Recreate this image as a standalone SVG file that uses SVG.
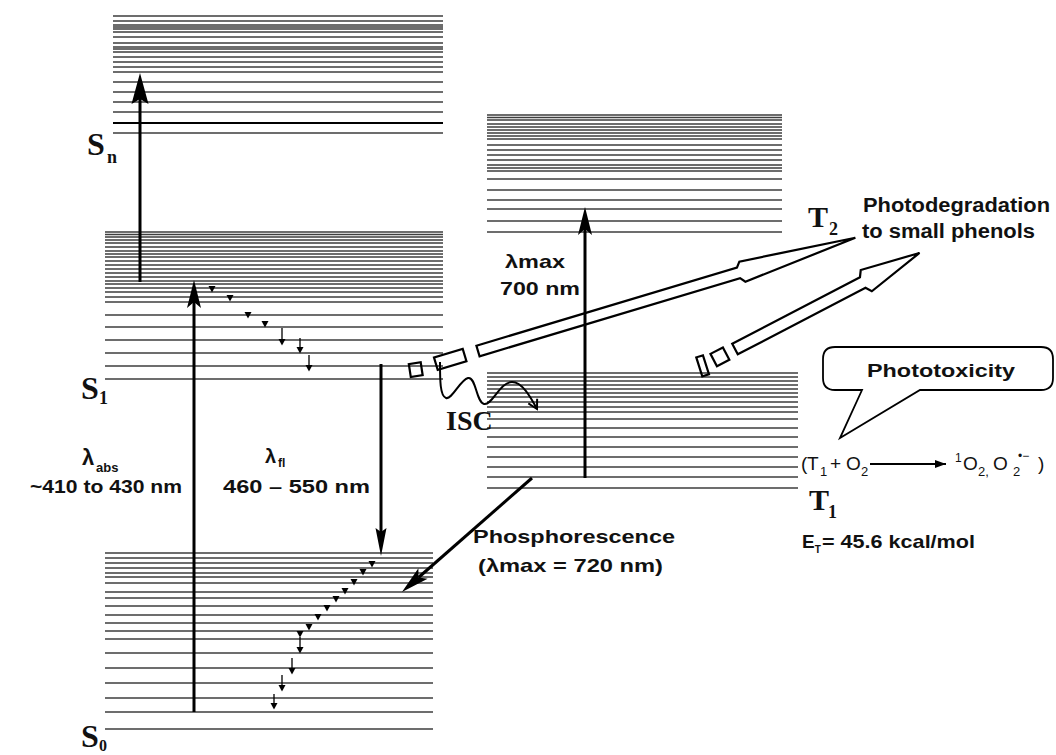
<svg xmlns="http://www.w3.org/2000/svg" xmlns:xlink="http://www.w3.org/1999/xlink" width="1056" height="755" viewBox="0 0 1056 755">
<style>
.lv{stroke:#3e3e3e;stroke-width:1.5;fill:none}
.ar{stroke:#000;stroke-width:3;fill:none}
.hol{stroke:#000;stroke-width:2.2;fill:none;stroke-linejoin:miter}
.sf{font-family:"Liberation Serif","Times New Roman",serif;font-weight:bold;fill:#111}
.ss{font-family:"Liberation Sans",Arial,sans-serif;font-weight:bold;fill:#111}
.sr{font-family:"Liberation Sans",Arial,sans-serif;fill:#111}
</style>
<defs>
<marker id="ah" viewBox="-10 -10 40 20" refX="0" refY="0" markerWidth="40" markerHeight="20" markerUnits="userSpaceOnUse" orient="auto"><path d="M22,0 L-6,-7 L0,0 L-6,7 Z" fill="#000"/></marker>
<marker id="ahB" viewBox="-10 -10 40 20" refX="0" refY="0" markerWidth="40" markerHeight="20" markerUnits="userSpaceOnUse" orient="auto"><path d="M26,0 L-5,-8.5 L0,0 L-5,8.5 Z" fill="#000"/></marker>
<marker id="ahS" viewBox="-10 -10 40 20" refX="0" refY="0" markerWidth="40" markerHeight="20" markerUnits="userSpaceOnUse" orient="auto"><path d="M24,0 L-4,-5.5 L0,0 L-4,5.5 Z" fill="#000"/></marker>
<marker id="ahO" viewBox="-12 -8 14 16" refX="0" refY="0" markerWidth="14" markerHeight="16" markerUnits="userSpaceOnUse" orient="auto"><path d="M-9,-5 L0,0 L-9,5" fill="none" stroke="#000" stroke-width="2"/></marker>
<marker id="ahF" viewBox="-12 -6 14 12" refX="0" refY="0" markerWidth="14" markerHeight="12" markerUnits="userSpaceOnUse" orient="auto"><path d="M0,0 L-11,-4 L-11,4 Z" fill="#000"/></marker>
<path id="tri" d="M-3.5,-3 L3.5,-3 L0,3.5 Z" fill="#000"/>
</defs>
<rect width="1056" height="755" fill="#fff"/>

<g id="Sn">
<path class="lv" d="M113 16H443M113 21H443M113 25H443M113 27H443M113 29H443M113 32H443M113 37H443M113 43H443M113 47H443M113 49H443M113 52H443M113 57H443M113 62H443M113 67H443M113 72H443M113 82H443M113 92H443M113 102H443M113 112H443M113 133H443"/>
<path d="M113 123H443" stroke="#000" stroke-width="1.8"/>
<text class="sf" x="87" y="155" font-size="32">S</text>
<text class="sf" x="107" y="163" font-size="18">n</text>
</g>

<g id="S1">
<path class="lv" d="M105 232H443M105 234.5H443M105 237H443M105 240H443M105 243H443M105 247H443M105 251H443M105 254H443M105 257H443M105 261H443M105 265H443M105 269H443M105 273H443M105 277H443M105 281H443M105 284H443M105 288H443M105 292H443M105 297H443M105 302H443M105 315H443M105 327H443M105 340H443M105 353H443M105 366H443M105 379H443"/>
<text class="sf" x="81" y="399" font-size="32">S</text>
<text class="sf" x="99" y="404" font-size="18">1</text>
</g>

<g id="S0">
<path class="lv" d="M105 553H433M105 558H433M105 563H433M105 568H433M105 573H433M105 577H433M105 583H433M105 592H433M105 598H433M105 606H433M105 615H433M105 623H433M105 631H433M105 639H433M105 653H433M105 668H433M105 683H433M105 698H433M105 712H433M105 729H433"/>
<text class="sf" x="81" y="747" font-size="32">S</text>
<text class="sf" x="99" y="751" font-size="16">0</text>
</g>

<g id="T2">
<path class="lv" d="M487 115H782M487 117.5H782M487 120H782M487 124H782M487 127H782M487 130H782M487 133H782M487 136H782M487 139H782M487 145H782M487 150H782M487 155H782M487 160H782M487 165H782M487 168H782M487 171H782M487 179H782M487 190H782M487 200H782M487 209H782M487 221H782M487 232H782"/>
<text class="sf" x="808" y="227" font-size="30" font-weight="normal">T</text>
<text class="sf" x="829" y="235" font-size="18" font-weight="normal">2</text>
</g>

<g id="T1">
<path class="lv" d="M487 373H798M487 377H798M487 381H798M487 385H798M487 389H798M487 393H798M487 397H798M487 402H798M487 407H798M487 412H798M487 419H798M487 428H798M487 437H798M487 447H798M487 457H798M487 467H798M487 477H798M487 488H798"/>
<text class="sf" x="809" y="510" font-size="30">T</text>
<text class="sf" x="828" y="518" font-size="18">1</text>
<text class="ss" x="802" y="548" font-size="19">E<tspan font-size="10" dy="5">T</tspan></text>
<text class="ss" x="822" y="548" font-size="19" textLength="153" lengthAdjust="spacingAndGlyphs">= 45.6 kcal/mol</text>
</g>

<g id="phototoxicity">
<path d="M835 347H1041Q1053 347 1053 359V378Q1053 390 1041 390H920L840 438L862 390H835Q823 390 823 378V359Q823 347 835 347Z" fill="#fff" stroke="#000" stroke-width="1.8"/>
<text class="ss" x="867" y="377" font-size="19" textLength="148" lengthAdjust="spacingAndGlyphs">Phototoxicity</text>
<g class="sr" font-size="19">
<text x="801" y="470">(</text>
<text x="807" y="470">T</text>
<text x="820" y="476" font-size="13">1</text>
<text x="830" y="470">+</text>
<text x="846" y="470">O</text>
<text x="861" y="476" font-size="13">2</text>
<text x="955" y="462" font-size="12">1</text>
<text x="963" y="470">O</text>
<text x="978" y="476" font-size="13">2,</text>
<text x="993" y="470">O</text>
<text x="1013" y="476" font-size="13">2</text>
<text x="1018" y="460" font-size="12">•−</text>
<text x="1038" y="470">)</text>
</g>
<line x1="870" y1="464" x2="946" y2="464" stroke="#000" stroke-width="1.8" marker-end="url(#ahF)"/>
</g>

<g id="photodegradation">
<text class="ss" x="863" y="212" font-size="20" textLength="187" lengthAdjust="spacingAndGlyphs">Photodegradation</text>
<text class="ss" x="862" y="238" font-size="20" textLength="173" lengthAdjust="spacingAndGlyphs">to small phenols</text>
</g>

<g id="labels">
<text class="ss" x="82" y="465" font-size="22" font-weight="normal">λ</text>
<text class="ss" x="96" y="472" font-size="13">abs</text>
<text class="ss" x="30" y="493" font-size="19" textLength="152" lengthAdjust="spacingAndGlyphs">~410 to 430 nm</text>
<text class="ss" x="265" y="463" font-size="20" font-weight="normal">λ</text>
<text class="ss" x="278" y="467" font-size="12">fl</text>
<text class="ss" x="223" y="493" font-size="19" textLength="147" lengthAdjust="spacingAndGlyphs">460 – 550 nm</text>
<text class="ss" x="505" y="268" font-size="19" textLength="60" lengthAdjust="spacingAndGlyphs">λmax</text>
<text class="ss" x="500" y="295" font-size="19" textLength="80" lengthAdjust="spacingAndGlyphs">700 nm</text>
<text class="ss" x="473" y="543" font-size="19" textLength="202" lengthAdjust="spacingAndGlyphs">Phosphorescence</text>
<text class="ss" x="478" y="572" font-size="19" textLength="185" lengthAdjust="spacingAndGlyphs">(λmax = 720 nm)</text>
<text class="sf" x="446" y="430" font-size="28">ISC</text>
</g>

<g id="connectors">
<line class="ar" x1="140" y1="282" x2="140" y2="99" stroke-width="5" marker-end="url(#ahB)"/>
<line class="ar" x1="194" y1="712" x2="194" y2="302" marker-end="url(#ah)"/>
<line class="ar" x1="381" y1="364" x2="381" y2="532" marker-end="url(#ahS)"/>
<line class="ar" x1="585" y1="478" x2="585" y2="229" marker-end="url(#ah)"/>
<line class="ar" x1="532" y1="478" x2="418.5" y2="577.5" marker-end="url(#ah)"/>
<path d="M440 362C440 380 440 396 446 398C452 400 460 380 468 378C476 376 476 402 484 404C492 406 500 382 512 382C522 382 530 396 537 409" fill="none" stroke="#000" stroke-width="2" marker-end="url(#ahO)"/>
<g id="relax-S1">
<use xlink:href="#tri" x="212" y="289"/>
<use xlink:href="#tri" x="230" y="298"/>
<use xlink:href="#tri" x="248" y="315"/>
<use xlink:href="#tri" x="265" y="324"/>
<use xlink:href="#tri" x="282" y="342"/>
<use xlink:href="#tri" x="300" y="350"/>
<use xlink:href="#tri" x="309" y="368"/>
<path d="M282 328V340M300 338V348M309 355V366" stroke="#000" stroke-width="1.3"/>
</g>
<g id="relax-S0">
<use xlink:href="#tri" x="372" y="564"/>
<use xlink:href="#tri" x="363" y="572"/>
<use xlink:href="#tri" x="354" y="582"/>
<use xlink:href="#tri" x="345" y="591"/>
<use xlink:href="#tri" x="336" y="599"/>
<use xlink:href="#tri" x="327" y="608"/>
<use xlink:href="#tri" x="318" y="617"/>
<use xlink:href="#tri" x="309" y="627"/>
<use xlink:href="#tri" x="300" y="634"/>
<use xlink:href="#tri" x="300" y="650"/>
<use xlink:href="#tri" x="292" y="671"/>
<use xlink:href="#tri" x="282" y="688"/>
<use xlink:href="#tri" x="274" y="706"/>
<path d="M300 637V648M292 658V669M282 675V686M274 694V704" stroke="#000" stroke-width="1.3"/>
</g>
<g id="hollow-upper" transform="translate(478 351) rotate(-16.7)">
<path class="hol" d="M0 -5.5H272L276 -10.5L394 0L276 10.5L272 5.5H0Z"/>
<rect class="hol" x="-44" y="-6.5" width="30" height="13"/>
<rect class="hol" x="-71" y="-6.5" width="12" height="13" transform="rotate(8 -65 0)"/>
</g>
<g id="hollow-lower" transform="translate(735 349) rotate(-27.5)">
<path class="hol" d="M0 -6H144L148 -12L208 0L148 12L144 6H0Z"/>
<rect class="hol" x="-24" y="-7" width="14" height="14"/>
<rect class="hol" x="-40" y="-10" width="7" height="20" transform="rotate(10 -36.5 0)"/>
</g>
</g>
</svg>
